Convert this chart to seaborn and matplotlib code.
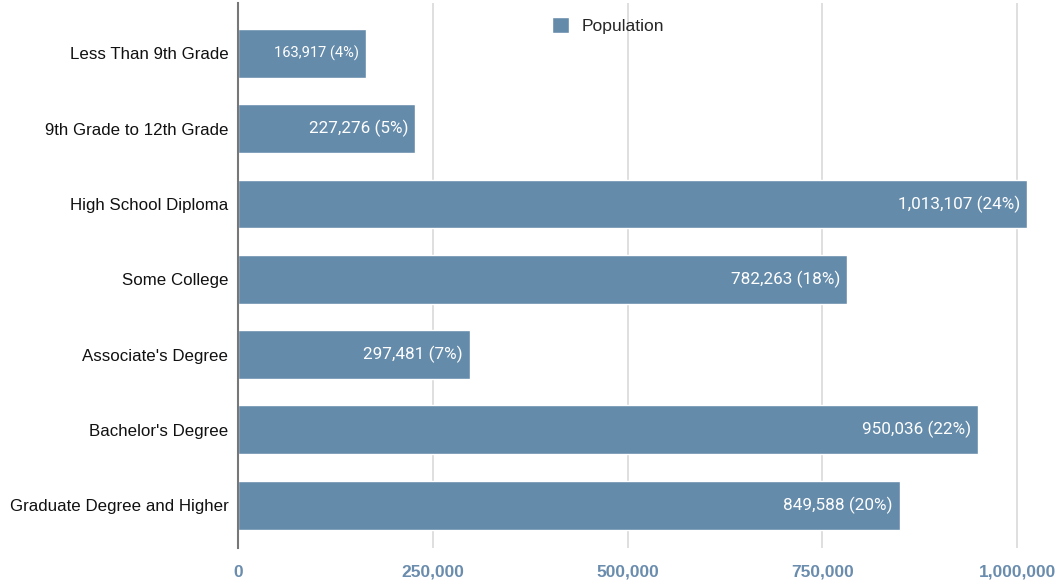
import matplotlib
matplotlib.use("Agg")
import matplotlib.pyplot as plt
import seaborn as sns
import pandas as pd
from matplotlib.ticker import FuncFormatter

categories = ["Less Than 9th Grade", "9th Grade to 12th Grade", "High School Diploma",
              "Some College", "Associate's Degree", "Bachelor's Degree",
              "Graduate Degree and Higher"]
population = [163917, 227276, 1013107, 782263, 297481, 950036, 849588]
percents = [4, 5, 24, 18, 7, 22, 20]
xticks = [0, 250000, 500000, 750000, 1000000]

sns.set_style("white")
plt.rcParams['font.family'] = ['Liberation Sans', 'DejaVu Sans']

df = pd.DataFrame({"category": categories, "Population": population})
bar_color = "#658bab"

fig = plt.figure(figsize=(10.58, 5.84), dpi=100)
ax = fig.add_axes([238/1058, 1-548/584, (1050-238)/1058, (548-3)/584])

sns.barplot(data=df, y="category", x="Population", color=bar_color, width=0.65,
            saturation=1, ax=ax, label="Population", orient="h")

ax.set_xlim(0, (1050-238)/779*1e6)
ax.set_ylim(6.57, -0.67)
ax.set_xticks(xticks)
ax.xaxis.set_major_formatter(FuncFormatter(lambda v, p: f"{int(v):,}"))
ax.grid(axis="x", color="#d9d9d9", linewidth=1.2)
ax.set_axisbelow(True)
for s in ["top", "right", "bottom"]:
    ax.spines[s].set_visible(False)
ax.spines["left"].set_color("#777777")
ax.spines["left"].set_linewidth(1.5)
ax.spines["left"].set_zorder(5)
ax.set_xlabel("")
ax.set_ylabel("")
ax.tick_params(axis="both", length=0)
ax.tick_params(axis="x", pad=12)
ax.tick_params(axis="y", pad=7)
for t in ax.get_xticklabels():
    t.set_fontfamily(['Liberation Sans Narrow', 'Liberation Sans'])
    t.set_fontweight("bold")
    t.set_fontsize(12.5)
    t.set_color("#6a8cad")
for t in ax.get_yticklabels():
    t.set_fontsize(12.2)
    t.set_color("#111111")

for i, (v, p) in enumerate(zip(population, percents)):
    fs = 10.5 if i == 0 else 12.3
    ax.text(v - 9000, i, f"{v:,} ({p}%)", ha="right", va="center", color="white",
            fontsize=fs, family=['Roboto', 'DejaVu Sans'])

leg = ax.legend(loc="upper center", bbox_to_anchor=((608-238)/812, 1.0), frameon=False,
                fontsize=12.6, handlelength=1.0, handleheight=1.0, handletextpad=0.7,
                borderaxespad=0.4)

fig.savefig("out.png", dpi=100)
